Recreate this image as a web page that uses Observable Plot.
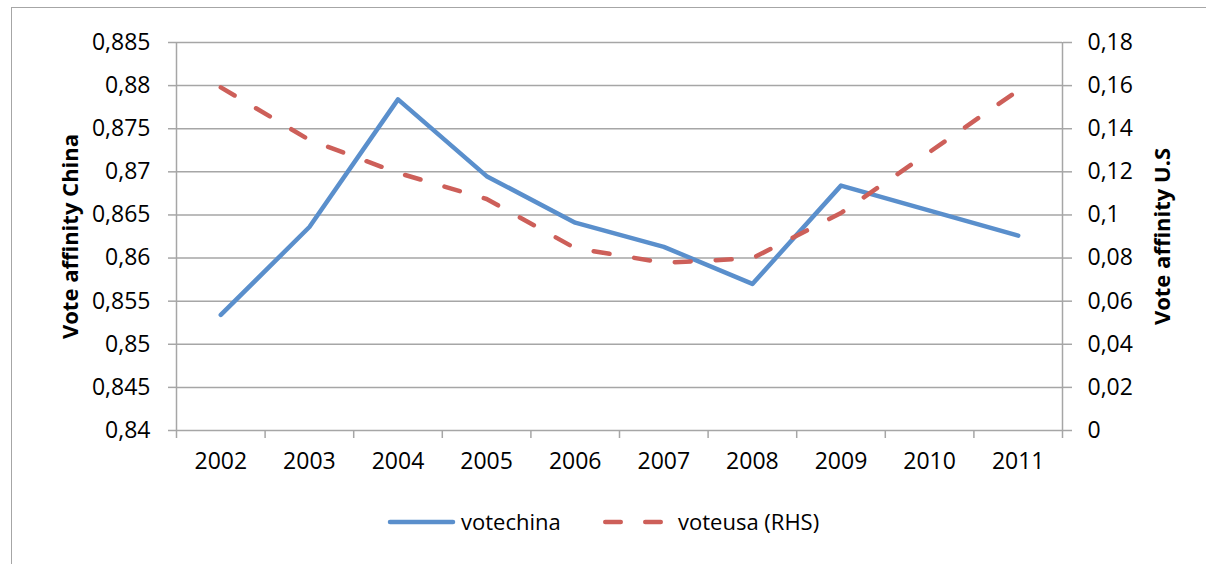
<!DOCTYPE html>
<html><head><meta charset="utf-8">
<script src="https://cdn.jsdelivr.net/npm/d3@7"></script>
<script src="https://cdn.jsdelivr.net/npm/@observablehq/plot@0.6"></script>
<style>
body{margin:0;background:#fff;font-family:"Open Sans",sans-serif;width:1206px;height:564px;overflow:hidden;position:relative;}
#frame{position:absolute;left:11px;top:7px;width:1200px;height:600px;border-left:1.5px solid #a6a6a6;border-top:1.5px solid #a6a6a6;}
#chart{position:absolute;left:0;top:0;}
#legend{position:absolute;left:0;top:490px;width:1206px;height:74px;}
</style></head><body>
<div id="frame"></div><div id="chart"></div><div id="legend"></div>
<script>
const years = [2002, 2003, 2004, 2005, 2006, 2007, 2008, 2009, 2010, 2011];
const voteChina = [0.8534, 0.8636, 0.8784, 0.8695, 0.8641, 0.8613, 0.8570, 0.8684, 0.8655, 0.8626];
const voteUSA = [0.1592, 0.1348, 0.1195, 0.1074, 0.0846, 0.0778, 0.0799, 0.1009, 0.1292, 0.1578];
const leftTicks = [0.84, 0.845, 0.85, 0.855, 0.86, 0.865, 0.87, 0.875, 0.88, 0.885];
const rightTicks = [0, 0.02, 0.04, 0.06, 0.08, 0.1, 0.12, 0.14, 0.16, 0.18];
const seriesNames = ["votechina", "voteusa (RHS)"];
const axisTitles = ["Vote affinity China", "Vote affinity U.S"];

const blue = "#5a8fcc", red = "#cd5f59", grid = "#a6a6a6";
const L0 = 0.84, L1 = 0.885, R0 = 0, R1 = 0.18;
const toLeft = v => L0 + (v - R0) * (L1 - L0) / (R1 - R0);
const fromLeft = v => R0 + (v - L0) * (R1 - R0) / (L1 - L0);
const fmt = v => String(+(+v).toFixed(4)).replace(".", ",");

const chinaData = years.map((y, i) => ({year: y, value: voteChina[i]}));
const usaData = years.map((y, i) => ({year: y, value: toLeft(voteUSA[i])}));
const bounds = [years[0] - 0.5, ...years.map(y => y + 0.5)];

const plot = Plot.plot({
  width: 1206, height: 490,
  marginLeft: 176, marginRight: 144, marginTop: 42, marginBottom: 60,
  x: {domain: [years[0] - 0.5, years[years.length - 1] + 0.5]},
  y: {domain: [L0, L1]},
  style: {fontFamily: "'Open Sans', sans-serif", fontSize: "23px", color: "#000", background: "transparent"},
  marks: [
    Plot.ruleY(leftTicks, {stroke: grid, strokeWidth: 1.5}),
    Plot.ruleX([bounds[0], bounds[bounds.length - 1]], {stroke: grid, strokeWidth: 1.5}),
    Plot.axisY({ticks: leftTicks, tickSize: 8, tickPadding: 18, tickFormat: fmt, stroke: grid, strokeWidth: 1.5, fill: "#000", fontSize: 23, label: null}),
    Plot.axisY({anchor: "right", ticks: rightTicks.map(toLeft), tickSize: 9, tickPadding: 16, tickFormat: d => fmt(fromLeft(d)), stroke: grid, strokeWidth: 1.5, fill: "#000", fontSize: 23, label: null}),
    Plot.axisX({ticks: bounds, tickSize: 8, tickFormat: () => "", stroke: grid, strokeWidth: 1.5, label: null}),
    Plot.axisX({ticks: years, tickSize: 0, tickPadding: 22, tickFormat: d => String(d), fill: "#000", fontSize: 23, label: null}),
    Plot.line(chinaData, {x: "year", y: "value", stroke: blue, strokeWidth: 4.5, strokeLinejoin: "round", strokeLinecap: "round"}),
    Plot.line(usaData, {x: "year", y: "value", stroke: red, strokeWidth: 4.5, strokeDasharray: "16,25", strokeLinejoin: "round", strokeLinecap: "round"}),
    Plot.text([axisTitles[0]], {frameAnchor: "left", dx: -106, rotate: -90, textAnchor: "middle", fontWeight: "bold", fontSize: 22, fill: "#000"}),
    Plot.text([axisTitles[1]], {frameAnchor: "right", dx: 100, rotate: -90, textAnchor: "middle", fontWeight: "bold", fontSize: 22, fill: "#000"})
  ]
});
document.getElementById("chart").appendChild(plot);

// legend below the chart
const svg = d3.select("#legend").append("svg").attr("width", 1206).attr("height", 74)
  .style("font-family", "'Open Sans', sans-serif").style("font-size", "22px");
const ly = 32;
svg.append("line").attr("x1", 390).attr("x2", 453).attr("y1", ly).attr("y2", ly)
  .attr("stroke", blue).attr("stroke-width", 4.5).attr("stroke-linecap", "round");
svg.append("text").attr("x", 461).attr("y", ly).attr("dy", "0.35em").text(seriesNames[0]);
svg.append("line").attr("x1", 605.25).attr("x2", 660.75).attr("y1", ly).attr("y2", ly)
  .attr("stroke", red).attr("stroke-width", 4.5).attr("stroke-linecap", "round").attr("stroke-dasharray", "15.5,24.5");
svg.append("text").attr("x", 678).attr("y", ly).attr("dy", "0.35em").text(seriesNames[1]);
</script>
</body></html>
